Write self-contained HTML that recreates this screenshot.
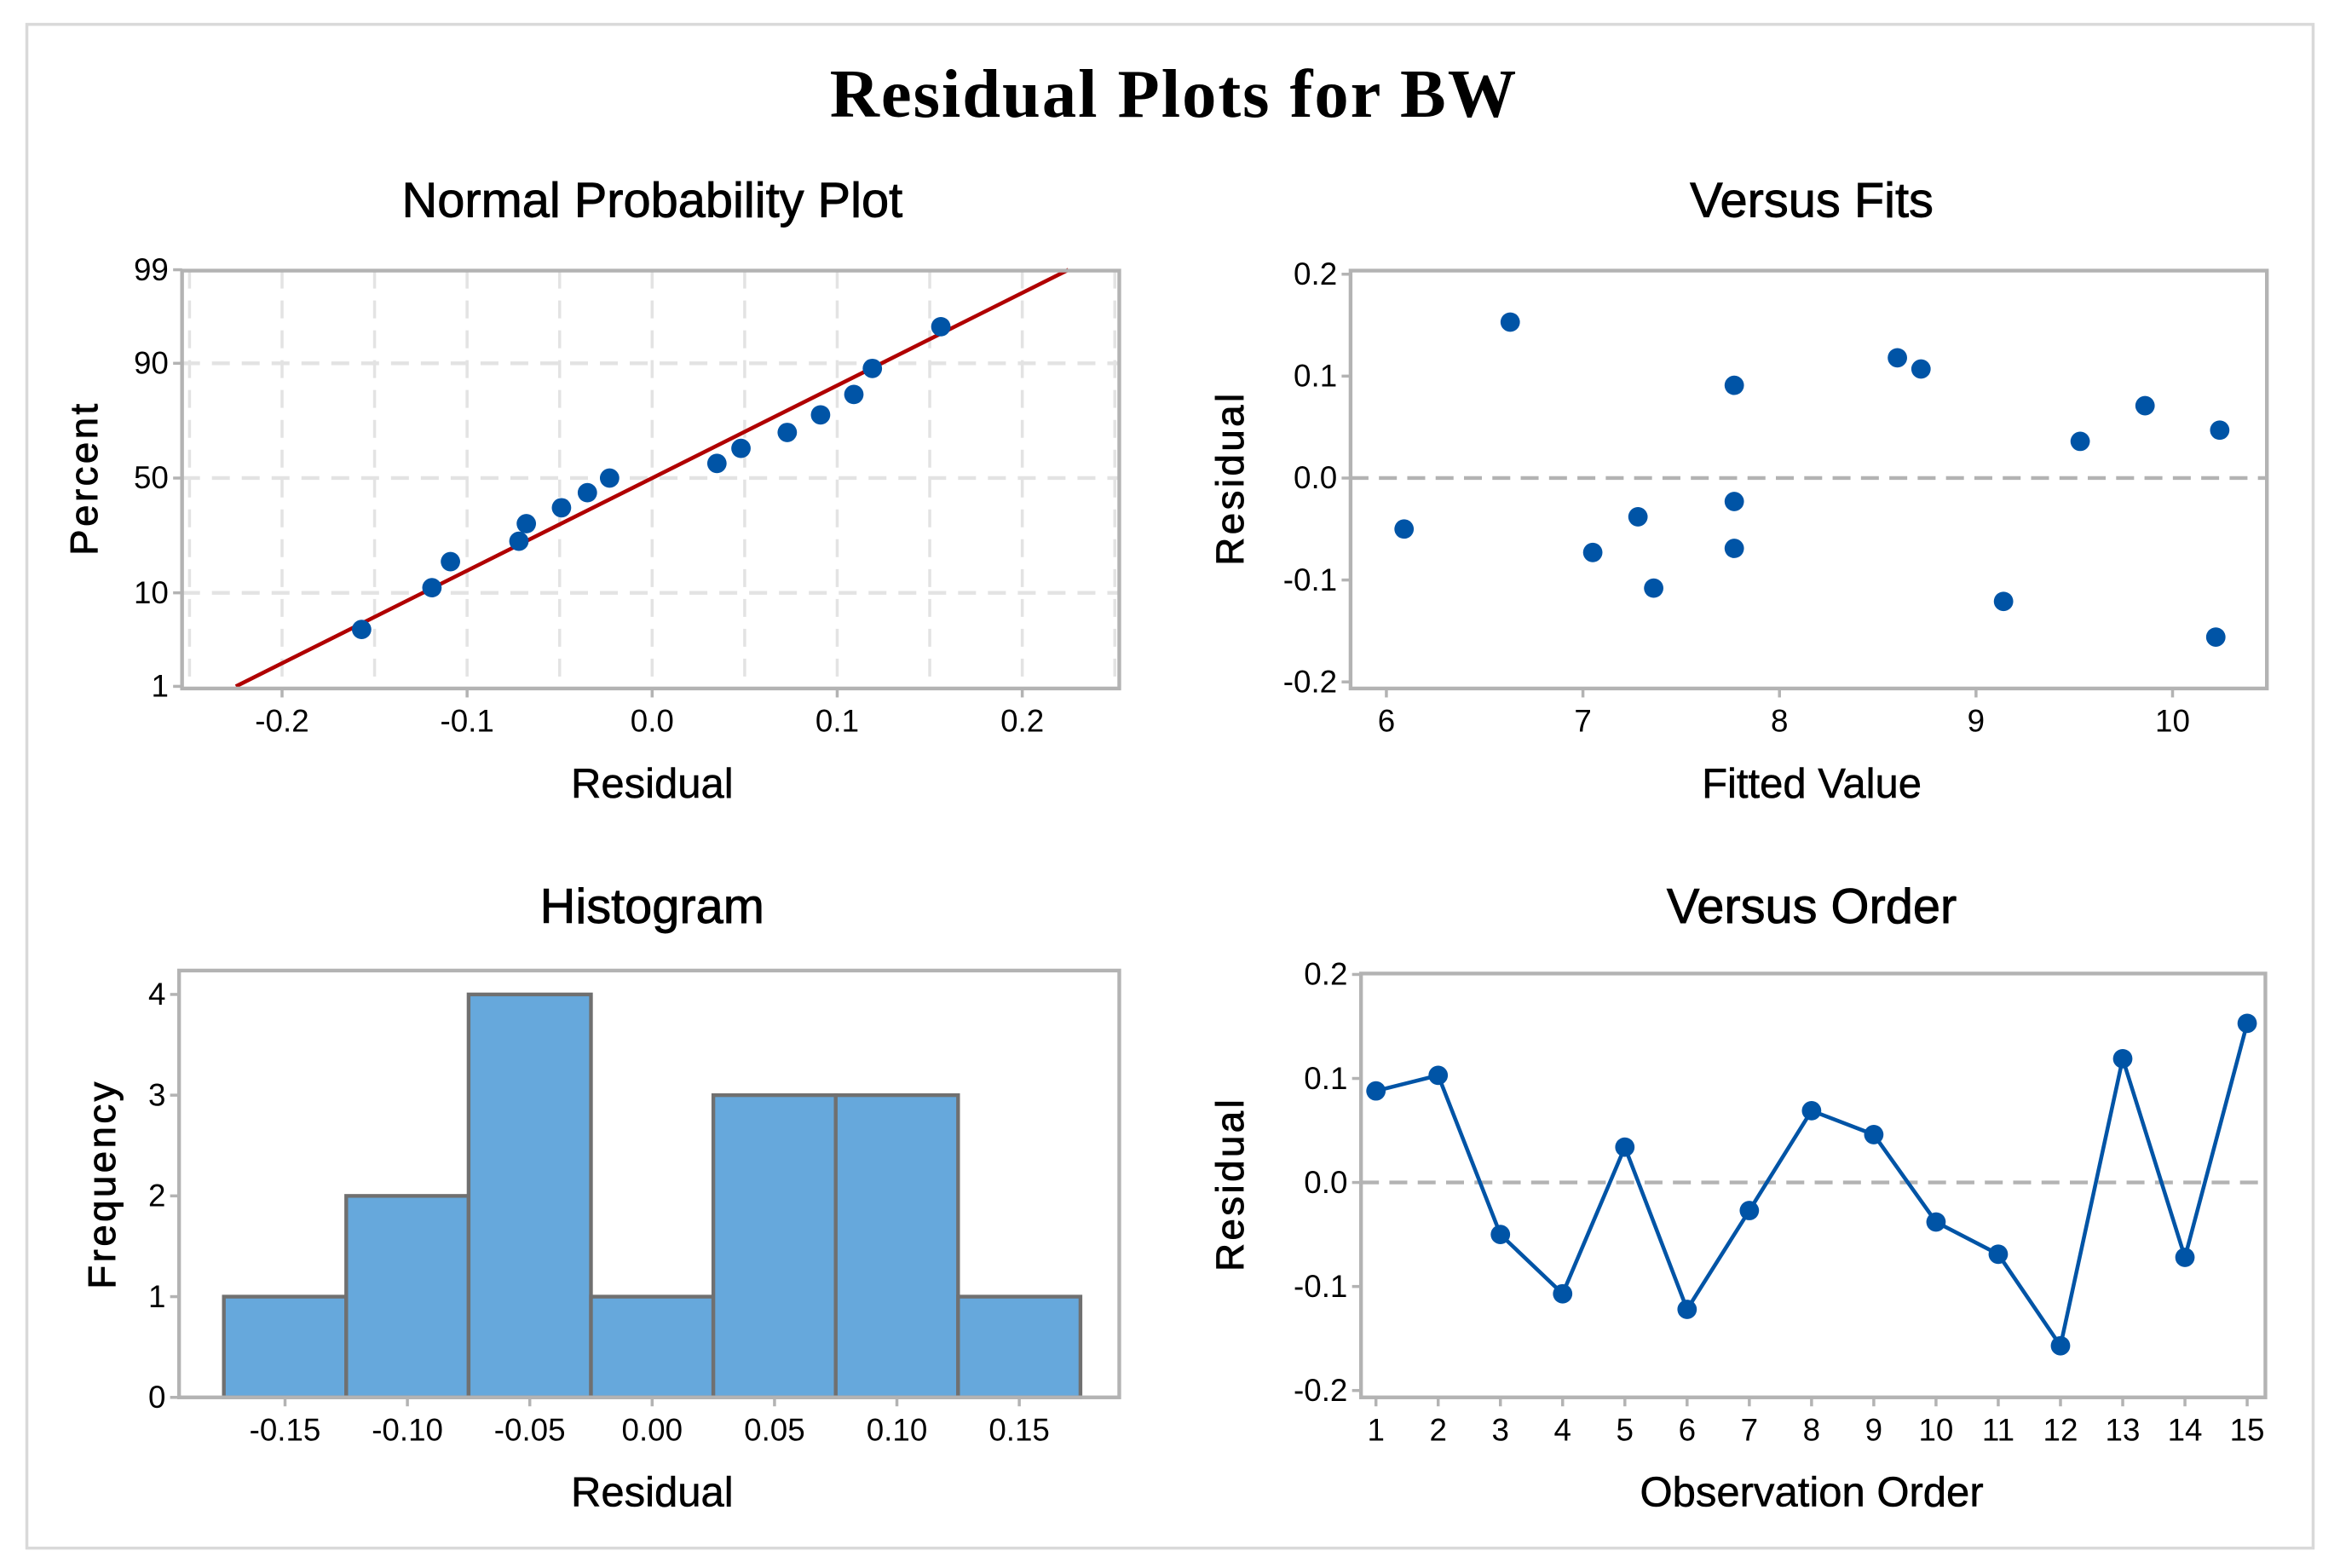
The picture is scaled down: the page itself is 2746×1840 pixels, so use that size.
<!DOCTYPE html>
<html><head><meta charset="utf-8"><style>
html,body{margin:0;padding:0;background:#fff;}
svg{display:block;}
text{font-family:"Liberation Sans",sans-serif;fill:#000;}
</style></head><body>
<svg id="chart" width="2746" height="1840" viewBox="0 0 1568 1050" xmlns="http://www.w3.org/2000/svg">
<rect x="18" y="16" width="1532" height="1021" fill="#fff" stroke="#d9d9d9" stroke-width="2"/>
<text x="786" y="78" text-anchor="middle" textLength="460" style="font-family:'Liberation Serif',serif;font-weight:bold;font-size:46px;">Residual Plots for BW</text>
<g id="g1"></g>
<g id="g2"></g>
<g id="g3"></g>
<g id="g4"></g>
</svg>
<script>
// ---- data ----
const orderResiduals = [0.088, 0.103, -0.050, -0.107, 0.034, -0.122, -0.027, 0.069, 0.046, -0.038, -0.069, -0.157, 0.119, -0.072, 0.153];
const orderLabels = ["1","2","3","4","5","6","7","8","9","10","11","12","13","14","15"];
const fitValues = [6.09, 6.63, 7.05, 7.28, 7.36, 7.77, 7.77, 7.77, 8.60, 8.72, 9.14, 9.53, 9.86, 10.22, 10.24];
const fitResiduals = [-0.050, 0.153, -0.073, -0.038, -0.108, 0.091, -0.023, -0.069, 0.118, 0.107, -0.121, 0.036, 0.071, -0.156, 0.047];
const nppResiduals = [-0.157, -0.119, -0.109, -0.072, -0.068, -0.049, -0.035, -0.023, 0.035, 0.048, 0.073, 0.091, 0.109, 0.119, 0.156];
const nppFitMean = 0.0;
const nppFitSd = 0.0967;
const nppXTicks = [-0.2, -0.1, 0.0, 0.1, 0.2];
const nppXTickLabels = ["-0.2", "-0.1", "0.0", "0.1", "0.2"];
const nppYTicks = [1, 10, 50, 90, 99];
const histBinCenters = [-0.15, -0.10, -0.05, 0.00, 0.05, 0.10, 0.15];
const histCounts = [1, 2, 4, 1, 3, 3, 1];
const histXTickLabels = ["-0.15", "-0.10", "-0.05", "0.00", "0.05", "0.10", "0.15"];
const histYTicks = [0, 1, 2, 3, 4];
const residTicks = [-0.2, -0.1, 0.0, 0.1, 0.2];
const residTickLabels = ["-0.2", "-0.1", "0.0", "0.1", "0.2"];
const fitXTicks = [6, 7, 8, 9, 10];

const NS = "http://www.w3.org/2000/svg";
function mk(parent, tag, attrs, txt) {
  const e = document.createElementNS(NS, tag);
  for (const k in attrs) e.setAttribute(k, attrs[k]);
  if (txt !== undefined) e.textContent = txt;
  parent.appendChild(e);
  return e;
}
function invNorm(p) {
  const a=[-3.969683028665376e+01,2.209460984245205e+02,-2.759285104469687e+02,1.383577518672690e+02,-3.066479806614716e+01,2.506628277459239e+00];
  const b=[-5.447609879822406e+01,1.615858368580409e+02,-1.556989798598866e+02,6.680131188771972e+01,-1.328068155288572e+01];
  const c=[-7.784894002430293e-03,-3.223964580411365e-01,-2.400758277161838e+00,-2.549671660084830e+00,4.374664141464968e+00,2.938163982698783e+00];
  const d=[7.784695709041462e-03,3.224671290700398e-01,2.445134137142996e+00,3.754408661907416e+00];
  const pl=0.02425;
  if (p<pl){const q=Math.sqrt(-2*Math.log(p));return (((((c[0]*q+c[1])*q+c[2])*q+c[3])*q+c[4])*q+c[5])/((((d[0]*q+d[1])*q+d[2])*q+d[3])*q+1);}
  if (p>1-pl){const q=Math.sqrt(-2*Math.log(1-p));return -(((((c[0]*q+c[1])*q+c[2])*q+c[3])*q+c[4])*q+c[5])/((((d[0]*q+d[1])*q+d[2])*q+d[3])*q+1);}
  const q=p-0.5,r=q*q;
  return (((((a[0]*r+a[1])*r+a[2])*r+a[3])*r+a[4])*r+a[5])*q/(((((b[0]*r+b[1])*r+b[2])*r+b[3])*r+b[4])*r+1);
}
const AX = "#b3b3b3", PT = "#0054a6";

function frame(g, x0, y0, x1, y1) {
  const r = mk(g, "rect", {x:x0, y:y0, width:x1-x0, height:y1-y0, fill:"none", stroke:AX, "stroke-width":2.5});
  
  
}
function title(g, x, y, s) {
  const t = mk(g, "text", {x:x, y:y, "text-anchor":"middle", "font-size":33, "stroke":"#000", "stroke-width":0.5}, s);
  
  
}
function xtitle(g, x, y, s) {
  const t = mk(g, "text", {x:x, y:y, "text-anchor":"middle", "font-size":28, "stroke":"#000", "stroke-width":0.3}, s);
  
  
}
function ytitle(g, x, y, s) {
  const t = mk(g, "text", {x:x, y:y, "text-anchor":"middle", "font-size":26, "letter-spacing":"2", "stroke":"#000", "stroke-width":0.5, transform:`rotate(-90 ${x} ${y})`}, s);
  
  
}
function xtick(g, x, yb, lab, ly) {
  const l = mk(g, "line", {x1:x, x2:x, y1:yb, y2:yb+6, stroke:AX, "stroke-width":2});
  
  
  const t = mk(g, "text", {x:x, y:ly, "text-anchor":"middle", "font-size":21}, lab);
  
  
}
function ytick(g, xl, y, lab) {
  const l = mk(g, "line", {x1:xl-6, x2:xl, y1:y, y2:y, stroke:AX, "stroke-width":2});
  
  
  const t = mk(g, "text", {x:xl-9, y:y+7, "text-anchor":"end", "font-size":21}, lab);
  
  
}
function dot(g, x, y) {
  const c = mk(g, "ellipse", {cx:x, cy:y, rx:6.5, ry:6.5, fill:PT});
  
  
}

// ---- Panel 1: Normal probability ----
(function(){
  const g = document.getElementById("g1");
  const L=122, R=750, T=181, B=461;
  const sx = v => 437 + v*1240;
  const sy = p => 320 - invNorm(p/100)*60;
  for (let v=-0.25; v<=0.2501; v+=0.05) {
    const l = mk(g,"line",{x1:sx(v),x2:sx(v),y1:T,y2:B,stroke:"#e3e3e3","stroke-width":2,"stroke-dasharray":"12 8"});
    
    
  }
  [10,50,90].forEach(p=>{
    const l = mk(g,"line",{x1:L,x2:R,y1:sy(p),y2:sy(p),stroke:"#e3e3e3","stroke-width":2.5,"stroke-dasharray":"12 8"});
    
    
  });
  const z1 = invNorm(0.01), z2 = invNorm(0.99);
  const fl = mk(g,"line",{x1:sx(nppFitMean+nppFitSd*z1),y1:320-z1*60,x2:sx(nppFitMean+nppFitSd*z2),y2:320-z2*60,stroke:"#b00000","stroke-width":2.6});
  
  
  const n = nppResiduals.length;
  nppResiduals.forEach((r,i)=>{ dot(g, sx(r), sy(100*(i+1-0.3)/(n+0.4))); });
  frame(g,L,T,R,B);
  nppXTicks.forEach((v,i)=>xtick(g,sx(v),B,nppXTickLabels[i],490));
  nppYTicks.forEach(p=>ytick(g,L,sy(p),String(p)));
  title(g,437,145,"Normal Probability Plot");
  xtitle(g,437,534,"Residual");
  ytitle(g,65,320,"Percent");
})();

// ---- Panel 2: Versus fits ----
(function(){
  const g = document.getElementById("g2");
  const L=905, R=1519, T=181, B=461;
  const sx = v => 929 + (v-6)*131.7;
  const sy = v => 320 - v*683;
  const z = mk(g,"line",{x1:L,x2:R,y1:sy(0),y2:sy(0),stroke:"#b3b3b3","stroke-width":2.5,"stroke-dasharray":"12 7"});
  
  
  fitValues.forEach((f,i)=>dot(g,sx(f),sy(fitResiduals[i])));
  frame(g,L,T,R,B);
  fitXTicks.forEach(v=>xtick(g,sx(v),B,String(v),490));
  residTicks.forEach((v,i)=>ytick(g,L,sy(v),residTickLabels[i]));
  title(g,1214,145,"Versus Fits");
  xtitle(g,1214,534,"Fitted Value");
  ytitle(g,833,320,"Residual");
})();

// ---- Panel 3: Histogram ----
(function(){
  const g = document.getElementById("g3");
  const L=120, R=750, T=650, B=936;
  const sx = v => 437 + v*1640;
  const sy = c => 936 - c*67.5;
  const w = 0.05;
  histCounts.forEach((c,i)=>{
    const x0 = sx(histBinCenters[i]-w/2), x1 = sx(histBinCenters[i]+w/2);
    const r = mk(g,"rect",{x:x0,y:sy(c),width:x1-x0,height:sy(0)-sy(c),fill:"#66a8dc",stroke:"#707070","stroke-width":2.5});
    
    
  });
  frame(g,L,T,R,B);
  histBinCenters.forEach((v,i)=>xtick(g,sx(v),B,histXTickLabels[i],965));
  histYTicks.forEach(v=>ytick(g,L,sy(v),String(v)));
  title(g,437,618,"Histogram");
  xtitle(g,437,1009,"Residual");
  ytitle(g,77,793,"Frequency");
})();

// ---- Panel 4: Versus order ----
(function(){
  const g = document.getElementById("g4");
  const L=912, R=1518, T=652, B=936;
  const sx = i => 922 + i*41.7;
  const sy = v => 792 - v*697;
  const z = mk(g,"line",{x1:L,x2:R,y1:sy(0),y2:sy(0),stroke:"#b3b3b3","stroke-width":2.5,"stroke-dasharray":"12 7"});
  
  
  const pts = orderResiduals.map((r,i)=>sx(i)+","+sy(r)).join(" ");
  const pl = mk(g,"polyline",{points:pts,fill:"none",stroke:PT,"stroke-width":2.6});
  
  
  orderResiduals.forEach((r,i)=>dot(g,sx(i),sy(r)));
  frame(g,L,T,R,B);
  orderLabels.forEach((lab,i)=>xtick(g,sx(i),B,lab,965));
  residTicks.forEach((v,i)=>ytick(g,L,sy(v),residTickLabels[i]));
  title(g,1214,618,"Versus Order");
  xtitle(g,1214,1009,"Observation Order");
  ytitle(g,833,793,"Residual");
})();
</script>
</body></html>
